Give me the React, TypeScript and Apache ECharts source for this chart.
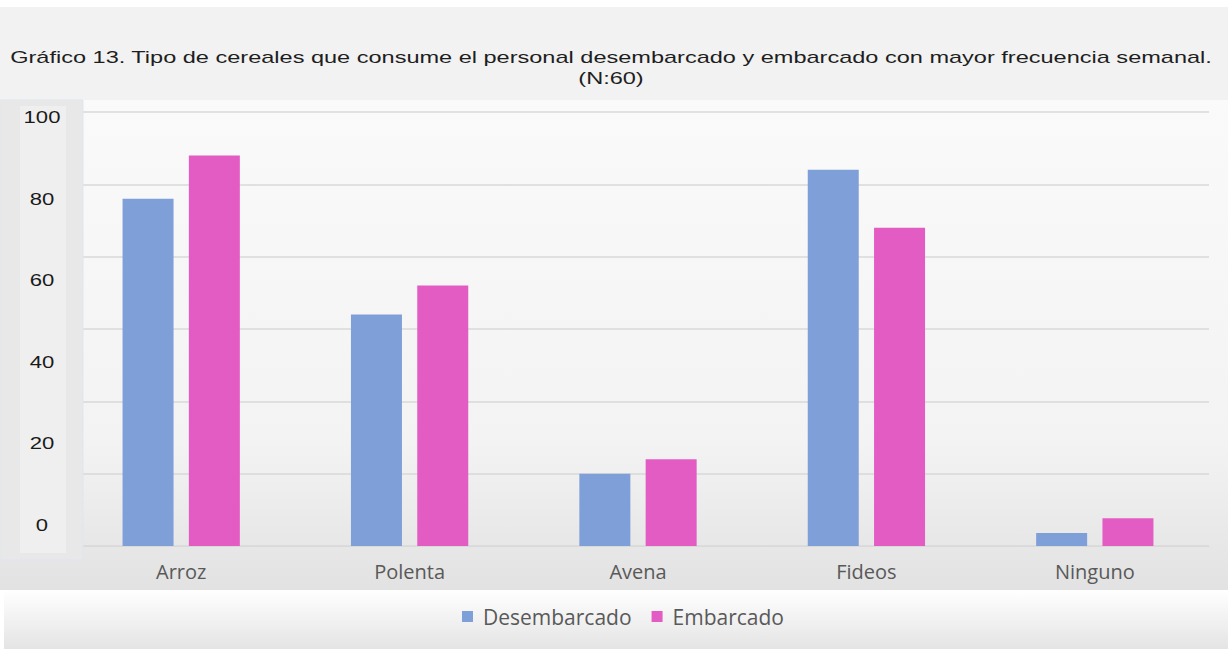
import React, { useEffect, useRef } from "react";
import * as echarts from "echarts";

const categories = ["Arroz", "Polenta", "Avena", "Fideos", "Ninguno"];
const desembarcado = [96, 64, 20, 104, 3.6];
const embarcado = [108, 72, 24, 88, 7.7];
const panelLabels = ["100", "80", "60", "40", "20", "0"];
const titleText =
  "Gráfico 13. Tipo de cereales que consume el personal desembarcado y embarcado con mayor frecuencia semanal.\n(N:60)";

export default function App() {
  const ref = useRef<HTMLDivElement>(null);
  useEffect(() => {
    const chart = echarts.init(ref.current!, null, { renderer: "svg" });
    const labelY = [117, 199, 280, 362, 443, 525];
    chart.setOption({
      animation: false,
      backgroundColor: "#ffffff",
      legend: {
        bottom: 17,
        left: 457,
        itemWidth: 11,
        itemHeight: 11,
        itemGap: 20,
        icon: "rect",
        textStyle: { fontFamily: "Open Sans", fontSize: 21, color: "#595959", padding: [0, 0, 0, 5] },
        data: ["Desembarcado", "Embarcado"],
      },
      grid: { left: 67, right: 19, top: 112, bottom: 103 },
      xAxis: {
        type: "category",
        data: categories,
        axisLine: { show: true, lineStyle: { color: "#d9d9d9", width: 1 } },
        axisTick: { show: false },
        axisLabel: {
          fontFamily: "Open Sans",
          fontSize: 20,
          color: "#595959",
          margin: 15,
        },
      },
      yAxis: {
        type: "value",
        min: 0,
        max: 120,
        interval: 20,
        axisLabel: { show: false },
        axisLine: { show: false },
        axisTick: { show: false },
        splitLine: { lineStyle: { color: "#d9d9d9", width: 1.5 } },
      },
      series: [
        {
          name: "Desembarcado",
          type: "bar",
          data: desembarcado,
          barWidth: 51,
          barGap: "30%",
          itemStyle: { color: "#7f9fd8" },
        },
        {
          name: "Embarcado",
          type: "bar",
          data: embarcado,
          barWidth: 51,
          itemStyle: { color: "#e35cc4" },
        },
      ],
      graphic: [
        {
          type: "rect",
          z: -10,
          shape: { x: 0, y: 7, width: 1228, height: 93 },
          style: { fill: "#f2f2f2" },
        },
        {
          type: "text",
          z: 5,
          x: 611,
          y: 46,
          scaleX: 1.385,
          style: {
            text: titleText,
            fontFamily: "Liberation Sans",
            fontSize: 17,
            lineHeight: 21,
            fill: "#1e1e1e",
            align: "center",
            verticalAlign: "top",
          },
        },
        {
          type: "rect",
          z: -10,
          shape: { x: 0, y: 100, width: 1228, height: 490 },
          style: {
            fill: new echarts.graphic.LinearGradient(0, 0, 0, 1, [
              { offset: 0, color: "#fafafa" },
              { offset: 0.7, color: "#f3f3f3" },
              { offset: 1, color: "#e2e2e2" },
            ]),
          },
        },
        {
          type: "rect",
          z: -10,
          shape: { x: 4, y: 590, width: 1224, height: 59 },
          style: {
            fill: new echarts.graphic.LinearGradient(0, 0, 0, 1, [
              { offset: 0, color: "#ffffff" },
              { offset: 1, color: "#e4e4e4" },
            ]),
          },
        },
        {
          type: "rect",
          z: 10,
          shape: { x: 0, y: 100, width: 83, height: 460 },
          style: { fill: "#e8e8e8", stroke: "#dfe5ee", lineWidth: 1 },
        },
        {
          type: "rect",
          z: 11,
          shape: { x: 20, y: 106, width: 46, height: 447 },
          style: { fill: "#efefef" },
        },
        ...panelLabels.map((t, i) => ({
          type: "text",
          z: 12,
          x: 42,
          y: labelY[i],
          scaleX: 1.3,
          style: {
            text: t,
            fontFamily: "Liberation Sans",
            fontSize: 17,
            fill: "#1a1a1a",
            align: "center",
            verticalAlign: "middle",
          },
        })),
      ],
    });
    return () => chart.dispose();
  }, []);
  return (
    <div
      ref={ref}
      style={{ position: "fixed", left: 0, top: 0, width: 1228, height: 649 }}
    />
  );
}
